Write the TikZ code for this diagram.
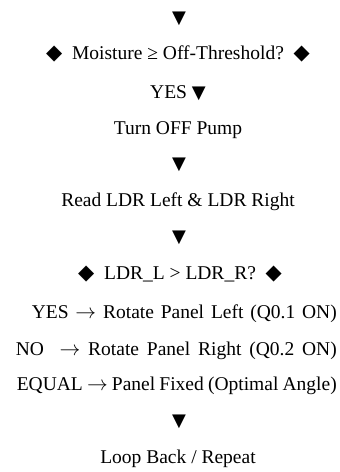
\documentclass[tikz,border=0pt]{standalone}
\usepackage{fontspec}
\setmainfont{Liberation Serif}
\newfontfamily\symfont{DejaVu Sans}
\newcommand{\tri}{{\symfont\fontsize{18}{20}\selectfont\char"25BC}}
\newcommand{\dia}{{\symfont\fontsize{21}{22}\selectfont\char"25C6}}
\begin{document}
\begin{tikzpicture}[x=1pt,y=-1pt,
  txt/.style={inner sep=0pt,anchor=base,font=\fontsize{19.5}{22}\selectfont},
  jline/.style={txt,anchor=base east}]
\useasboundingbox (0,0) rectangle (340,472);
\node[txt] (t1) at (179,23.5) {\tri};
\node[txt] (d1) at (178,59.5) {\dia\ \ Moisture ≥ Off-Threshold?\ \ \dia};
\node[txt] (y1) at (178,98.5) {YES \tri};
\node[txt] (p1) at (178,134.5) {Turn OFF Pump};
\node[txt] (t2) at (179,169.5) {\tri};
\node[txt] (r1) at (178,206.5) {Read LDR Left \& LDR Right};
\node[txt] (t3) at (179,242.5) {\tri};
\node[txt] (d2) at (180,279.5) {\dia\ \ LDR\_L > LDR\_R?\ \ \dia};
\node[jline] (a1) at (337,318.5) {\makebox[305pt][s]{YES $\rightarrow$ Rotate Panel Left (Q0.1 ON)}};
\node[jline] (a2) at (337,355.5) {\makebox[321pt][s]{NO\ \ $\rightarrow$ Rotate Panel Right (Q0.2 ON)}};
\node[jline] (a3) at (337,390.5) {\makebox[320pt][s]{EQUAL $\rightarrow$ Panel Fixed (Optimal Angle)}};
\node[txt] (t4) at (179,426.5) {\tri};
\node[txt] (l1) at (178,463.5) {Loop Back / Repeat};
\end{tikzpicture}
\end{document}
